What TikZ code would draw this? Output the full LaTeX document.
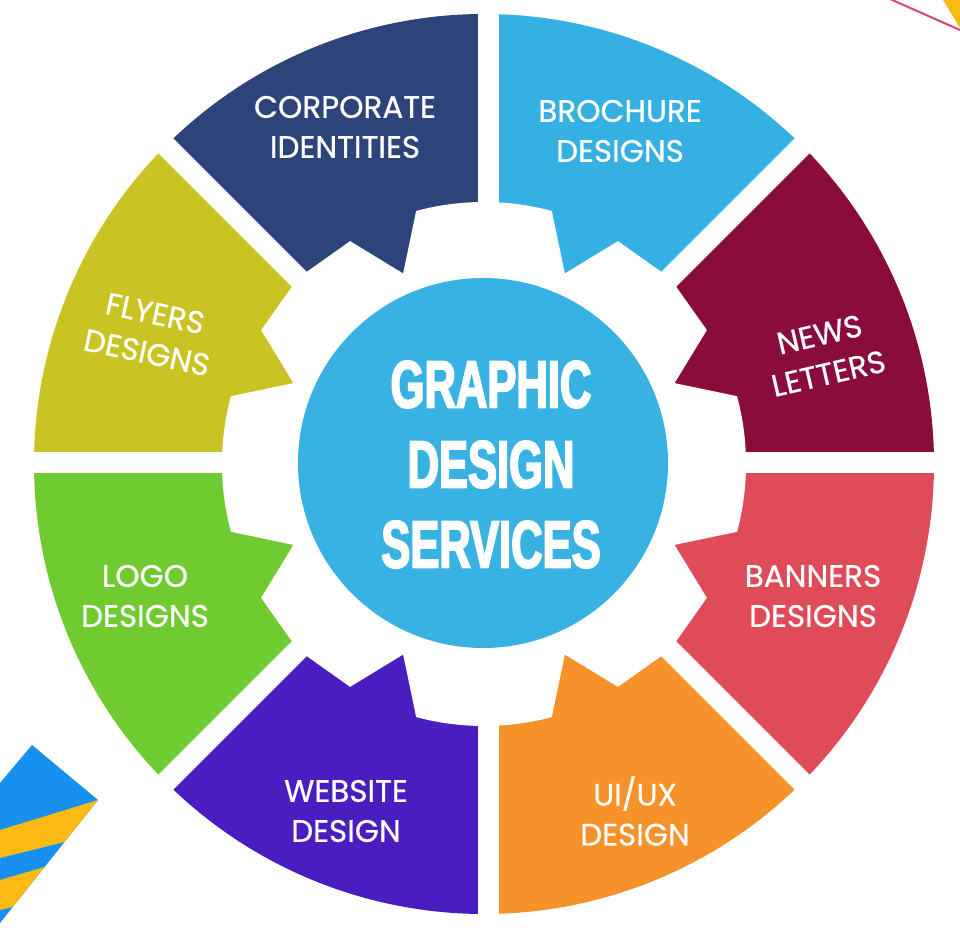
\documentclass[tikz,border=0pt]{standalone}
\usepackage{fontspec}
\setmainfont{Poppins}[FakeBold=0.6]
\newfontfamily\titlefont{Liberation Sans}[FakeStretch=0.65,FakeBold=2.6]

\definecolor{newsmaroon}{RGB}{137,12,59}
\definecolor{brochureblue}{RGB}{52,176,226}
\definecolor{corpnavy}{RGB}{45,68,122}
\definecolor{flyersolive}{RGB}{201,196,36}
\definecolor{logogreen}{RGB}{111,203,48}
\definecolor{webpurple}{RGB}{74,29,193}
\definecolor{uiuxorange}{RGB}{247,145,42}
\definecolor{bannerred}{RGB}{224,75,90}
\definecolor{hubblue}{RGB}{56,177,227}
\definecolor{ribbonblue}{RGB}{24,144,240}
\definecolor{ribbonyellow}{RGB}{252,186,18}
\definecolor{ribbonpink}{RGB}{214,69,117}

\begin{document}
\begin{tikzpicture}[x=1pt,y=1pt,
  gap/.style={white,line width=21pt},
  segtext/.style={text=white,align=center,inner sep=0pt,
    font=\fontsize{31}{40}\selectfont}]
  \useasboundingbox (0,0) rectangle (960,936);
  \fill[white] (0,0) rectangle (960,936);

  % corner ribbons
  \draw[ribbonpink,line width=2pt] (890,937) -- (960,906);
  \fill[ribbonyellow] (943,936) -- (960,936) -- (960,908) -- cycle;
  \fill[ribbonblue] (32,191) -- (98,136) -- (0,13) -- (0,153) -- cycle;
  \fill[ribbonyellow] (98,136) -- (0,106) -- (0,78) -- (64.5,94) -- cycle;
  \fill[ribbonyellow] (44.6,69) -- (0,56) -- (0,26) -- (12.7,29) -- cycle;

  \begin{scope}[shift={(484,472)}]
    % wheel segments
    \foreach \col [count=\i from 0] in
      {newsmaroon,brochureblue,corpnavy,flyersolive,logogreen,webpurple,uiuxorange,bannerred}
      \fill[\col] (0,0) -- (\i*45:450pt)
        arc[start angle=\i*45, end angle=\i*45+45, radius=450pt] -- cycle;

    % white gear
    \fill[white] (-15:262pt)
      \foreach \a in {0,90,180,270} {
        arc[start angle=\a-15, end angle=\a+15, radius=262pt]
        -- (\a+23:207pt) -- (\a+31:260pt) -- (\a+45:263pt)
        -- (\a+59:260pt) -- (\a+67:207pt) -- (\a+75:262pt)
      } -- cycle;

    % gaps between segments
    \draw[gap] (4,-456) -- (4,456);
    \draw[gap] (-456,1) -- (456,1);
    \draw[gap] (225:456pt) -- (45:456pt);
    \draw[gap] (135:456pt) -- (315:456pt);

    \fill[hubblue] (-1,1) circle[radius=185pt];
  \end{scope}

  \node[text=white,align=center,inner sep=0pt,
    font=\titlefont\bfseries\fontsize{67}{80}\selectfont] (hub) at (491,471.5)
    {GRAPHIC\\DESIGN\\SERVICES};

  \node[segtext] (corporate) at (345,809) {CORPORATE\\IDENTITIES};
  \node[segtext] (brochure) at (620,805) {BROCHURE\\DESIGNS};
  \node[segtext,rotate=13] (newsletters) at (824,582) {NEWS\\LETTERS};
  \node[segtext,rotate=-12] (flyers) at (151,603) {FLYERS\\DESIGNS};
  \node[segtext] (logo) at (145,340) {LOGO\\DESIGNS};
  \node[segtext] (banners) at (813,340) {BANNERS\\DESIGNS};
  \node[segtext] (website) at (346,125) {WEBSITE\\DESIGN};
  \node[segtext] (uiux) at (635,125) {UI/UX\\DESIGN};
\end{tikzpicture}
\end{document}
